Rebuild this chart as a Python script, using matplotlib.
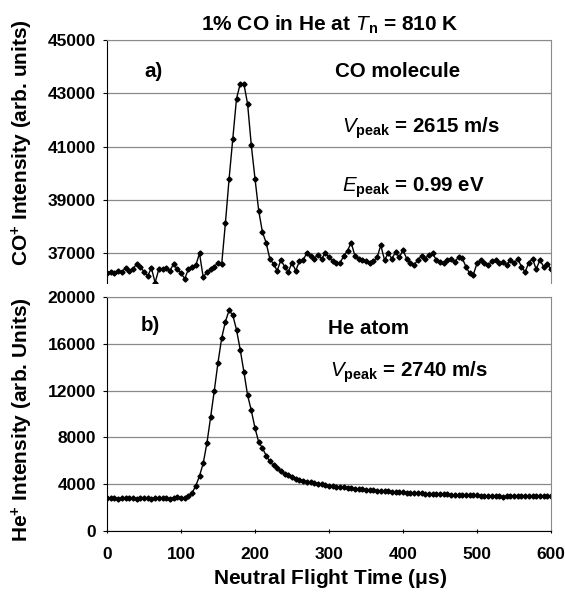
import numpy as np
import matplotlib
matplotlib.use("Agg")
import matplotlib.pyplot as plt

plt.rcParams['font.family'] = ['Liberation Sans', 'DejaVu Sans']
plt.rcParams['mathtext.fontset'] = 'custom'
plt.rcParams['mathtext.rm'] = 'Liberation Sans'
plt.rcParams['mathtext.it'] = 'Liberation Sans:italic'
plt.rcParams['mathtext.bf'] = 'Liberation Sans:bold'

# CO+ signal, one point every 5 us from 0 to 600
co_signal = [36250, 36300, 36250, 36350, 36300, 36450, 36350, 36400, 36600, 36500,
             36300, 36150, 36450, 35900, 36400, 36400, 36450, 36350, 36600, 36400,
             36250, 36050, 36400, 36500, 36550, 37000, 36100, 36300, 36400, 36500,
             36650, 36600,
             38130, 39800, 41300, 42800, 43350, 43350, 42600, 41050, 39800, 38600,
             37800, 37400, 36800,
             36600, 36350, 36750, 36500, 36300, 36650, 36350, 36700, 36750, 37000,
             36900, 36800, 36950, 36800, 37000, 36850, 36700, 36620, 36650, 36900,
             37100, 37400, 36900, 36800, 36750, 36700, 36620, 36700, 36850, 37300,
             36750, 37000, 36800, 37050, 36850, 37120, 36800, 36620, 36560, 36750,
             36900, 36800, 36950, 37000, 36750, 36690, 36620, 36750, 36800, 36690,
             36850, 36820, 36500, 36250, 36200, 36620, 36750, 36620, 36560, 36700,
             36750, 36620, 36690, 36560, 36750, 36620, 36800, 36500, 36300, 36650,
             36800, 36400, 36750, 36500, 36600, 36400]

# He+ signal, same time steps
he_signal = [2850, 2780, 2820, 2760, 2800, 2830, 2790, 2810, 2770, 2820,
             2800, 2780, 2760, 2800, 2830, 2790, 2810, 2770, 2850, 2900,
             2820, 2800, 2950, 3250,
             3870, 4700, 5790, 7500, 9720, 12000, 14400, 16500, 17900, 18850,
             18450, 17200, 15500, 13600, 11600, 10300, 8800, 7600,
             7100, 6450, 5950, 5600, 5350, 5100, 4900, 4750, 4600, 4480,
             4400, 4300, 4220, 4150, 4100, 4050, 3990, 3930, 3880, 3850,
             3800, 3760, 3720, 3690, 3650, 3620, 3600, 3570, 3540, 3500,
             3470, 3450, 3440, 3400, 3380, 3370, 3340, 3320, 3300, 3280,
             3260, 3250, 3230, 3220, 3200, 3190, 3170, 3160, 3150, 3140,
             3120, 3110, 3100, 3100, 3080, 3070, 3060, 3050, 3040, 3030,
             3020, 3000, 2990, 2980, 2950, 2930, 2960, 2980, 2990, 3000,
             2980, 2970, 2960, 2990, 3000, 2970, 2960, 2980, 2950]

t_co = np.arange(len(co_signal)) * 5
t_he = np.arange(len(he_signal)) * 5

co_ticks = [37000, 39000, 41000, 43000, 45000]
he_ticks = [0, 4000, 8000, 12000, 16000, 20000]
x_ticks = [0, 100, 200, 300, 400, 500, 600]

W, H = 565, 593
fig = plt.figure(figsize=(W / 100, H / 100), dpi=100)

ax1 = fig.add_axes([107 / W, 1 - 283 / H, 444 / W, (283 - 40) / H])
ax2 = fig.add_axes([107 / W, 1 - 531 / H, 444 / W, (531 - 297) / H])

tick_fs = 12.5
for ax in (ax1, ax2):
    ax.grid(axis='y', color='#8a8a8a', lw=0.9)
    ax.set_axisbelow(True)
    ax.spines['top'].set_color('#8a8a8a')
    ax.spines['right'].set_color('#8a8a8a')
    ax.set_xlim(0, 600)
    ax.tick_params(axis='y', length=3, pad=5)

# top panel
ax1.plot(t_co, co_signal, color='black', lw=1, marker='D', ms=2.6)
ax1.set_ylim(35886, 45000)
ax1.set_yticks(co_ticks)
ax1.set_yticklabels([str(v) for v in co_ticks], fontweight='bold', fontsize=tick_fs)
ax1.spines['bottom'].set_visible(False)
ax1.set_xticks([])

# bottom panel
ax2.plot(t_he, he_signal, color='black', lw=1, marker='D', ms=2.6)
ax2.set_ylim(0, 20000)
ax2.set_yticks(he_ticks)
ax2.set_yticklabels([str(v) for v in he_ticks], fontweight='bold', fontsize=tick_fs)
ax2.set_xticks(x_ticks)
ax2.set_xticklabels([str(v) for v in x_ticks], fontweight='bold', fontsize=tick_fs)
ax2.tick_params(axis='x', length=3, direction='inout', pad=10)

fs = 14.8
ax1.text(51, 43800, 'a)', fontsize=fs, fontweight='bold', va='center')
ax1.text(308, 43800, 'CO molecule', fontsize=fs, fontweight='bold', va='center')
ax1.text(318, 41700, r'$\mathbf{\mathit{V}_{peak}}$ = 2615 m/s', fontsize=fs,
         fontweight='bold', va='center')
ax1.text(318, 39450, r'$\mathbf{\mathit{E}_{peak}}$ = 0.99 eV', fontsize=fs,
         fontweight='bold', va='center')

ax2.text(45, 17600, 'b)', fontsize=fs, fontweight='bold', va='center')
ax2.text(299, 17350, 'He atom', fontsize=fs, fontweight='bold', va='center')
ax2.text(301, 13600, r'$\mathbf{\mathit{V}_{peak}}$ = 2740 m/s', fontsize=fs,
         fontweight='bold', va='center')

lab_fs = 15
fig.text(330 / W, 1 - 25 / H, r'1% CO in He at $\mathbf{\mathit{T}_{n}}$ = 810 K',
         fontsize=lab_fs, fontweight='bold', ha='center', va='center')
fig.text(22 / W, 1 - 143 / H, r'CO$^{\mathbf{+}}$ Intensity (arb. units)',
         fontsize=lab_fs, fontweight='bold', rotation=90, ha='center', va='center')
fig.text(22 / W, 1 - 420 / H, r'He$^{\mathbf{+}}$ Intensity (arb. Units)',
         fontsize=lab_fs, fontweight='bold', rotation=90, ha='center', va='center')
fig.text(330 / W, 3 / H, r'Neutral Flight Time ($\mathbf{\mu}$s)',
         fontsize=lab_fs, fontweight='bold', ha='center', va='bottom')

fig.savefig('out.png', dpi=100)
